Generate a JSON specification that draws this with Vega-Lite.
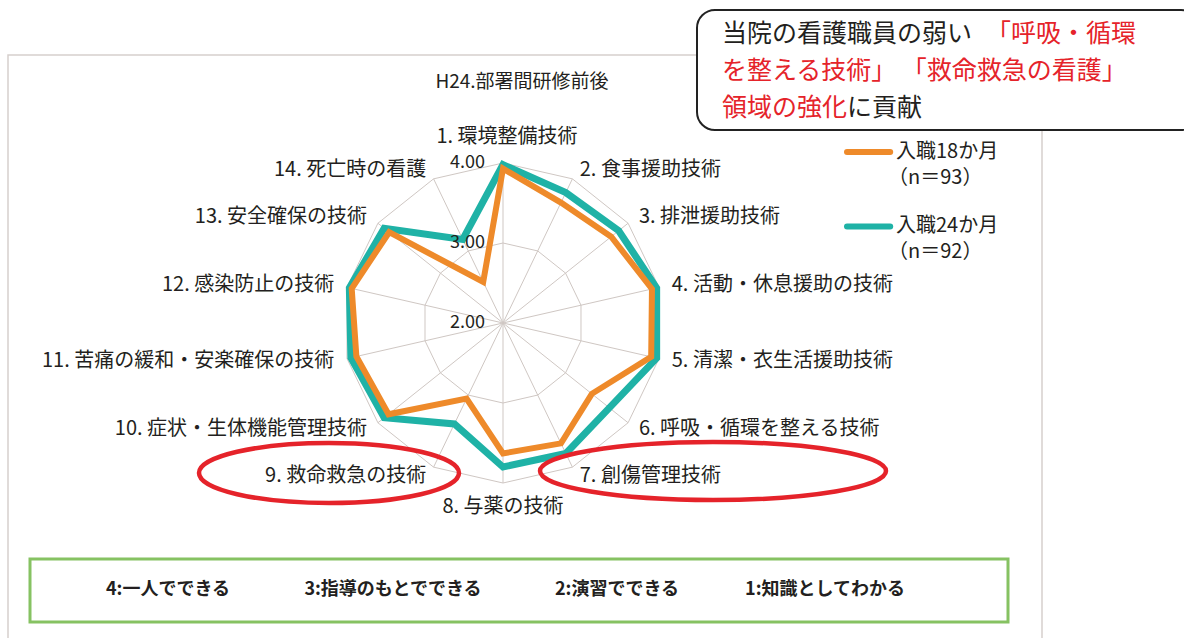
{
  "$schema": "https://vega.github.io/schema/vega-lite/v6.json",
  "width": 1184,
  "height": 638,
  "autosize": "none",
  "padding": 0,
  "background": "white",
  "config": {"view": {"stroke": null}, "text": {"font": "Noto Sans CJK JP"}},
  "data": {"values": [{"note": "annotation"}]},
  "datasets": {
    "axes": [
      {"axis": 1, "label": "1. 環境整備技術"},
      {"axis": 2, "label": "2. 食事援助技術"},
      {"axis": 3, "label": "3. 排泄援助技術"},
      {"axis": 4, "label": "4. 活動・休息援助の技術"},
      {"axis": 5, "label": "5. 清潔・衣生活援助技術"},
      {"axis": 6, "label": "6. 呼吸・循環を整える技術"},
      {"axis": 7, "label": "7. 創傷管理技術"},
      {"axis": 8, "label": "8. 与薬の技術"},
      {"axis": 9, "label": "9. 救命救急の技術"},
      {"axis": 10, "label": "10. 症状・生体機能管理技術"},
      {"axis": 11, "label": "11. 苦痛の緩和・安楽確保の技術"},
      {"axis": 12, "label": "12. 感染防止の技術"},
      {"axis": 13, "label": "13. 安全確保の技術"},
      {"axis": 14, "label": "14. 死亡時の看護"}
    ],
    "scores": [
      {"axis": 1, "m18": 3.93, "m24": 3.98},
      {"axis": 2, "m18": 3.67, "m24": 3.81},
      {"axis": 3, "m18": 3.73, "m24": 3.85},
      {"axis": 4, "m18": 3.91, "m24": 3.97},
      {"axis": 5, "m18": 3.90, "m24": 3.97},
      {"axis": 6, "m18": 3.42, "m24": 3.70},
      {"axis": 7, "m18": 3.67, "m24": 3.81},
      {"axis": 8, "m18": 3.63, "m24": 3.80},
      {"axis": 9, "m18": 3.05, "m24": 3.40},
      {"axis": 10, "m18": 3.83, "m24": 3.90},
      {"axis": 11, "m18": 3.88, "m24": 3.95},
      {"axis": 12, "m18": 3.94, "m24": 3.97},
      {"axis": 13, "m18": 3.82, "m24": 3.90},
      {"axis": 14, "m18": 2.57, "m24": 3.16}
    ],
    "levels": [{"v": 2}, {"v": 3}, {"v": 4}]
  },
  "layer": [
    {
      "mark": {"type": "rect", "filled": false, "stroke": "#D6D0CD", "strokeWidth": 1.5},
      "encoding": {
        "x": {"datum": -6.1875, "type": "quantitative", "scale": {"domain": [-6.2875, 8.5125], "nice": false, "zero": false}, "axis": null},
        "x2": {"datum": 6.7375},
        "y": {"datum": 3.35, "type": "quantitative", "scale": {"domain": [-3.9375, 4.0375], "nice": false, "zero": false}, "axis": null},
        "y2": {"datum": -4.2}
      }
    },
    {
      "data": {"name": "axes"},
      "transform": [
        {"calculate": "(datum.axis-1)*2*PI/14", "as": "t"},
        {"calculate": "2*sin(datum.t)", "as": "sx"},
        {"calculate": "2*cos(datum.t)", "as": "sy"}
      ],
      "mark": {"type": "rule", "color": "#CFC7C3", "strokeWidth": 1},
      "encoding": {
        "x": {"field": "sx", "type": "quantitative", "scale": {"domain": [-6.2875, 8.5125], "nice": false, "zero": false}, "axis": null},
        "y": {"field": "sy", "type": "quantitative", "scale": {"domain": [-3.9375, 4.0375], "nice": false, "zero": false}, "axis": null},
        "x2": {"datum": 0},
        "y2": {"datum": 0}
      }
    },
    {
      "data": {"name": "axes"},
      "transform": [
        {"calculate": "(datum.axis-1)*2*PI/14", "as": "t"},
        {"calculate": "sin(datum.t)", "as": "gx"},
        {"calculate": "cos(datum.t)", "as": "gy"}
      ],
      "mark": {"type": "line", "interpolate": "linear-closed", "color": "#CFC7C3", "strokeWidth": 1},
      "encoding": {
        "x": {"field": "gx", "type": "quantitative", "scale": {"domain": [-6.2875, 8.5125], "nice": false, "zero": false}, "axis": null},
        "y": {"field": "gy", "type": "quantitative", "scale": {"domain": [-3.9375, 4.0375], "nice": false, "zero": false}, "axis": null},
        "order": {"field": "axis", "type": "quantitative"}
      }
    },
    {
      "data": {"name": "axes"},
      "transform": [
        {"calculate": "(datum.axis-1)*2*PI/14", "as": "t"},
        {"calculate": "2*sin(datum.t)", "as": "gx"},
        {"calculate": "2*cos(datum.t)", "as": "gy"}
      ],
      "mark": {"type": "line", "interpolate": "linear-closed", "color": "#CFC7C3", "strokeWidth": 1},
      "encoding": {
        "x": {"field": "gx", "type": "quantitative", "scale": {"domain": [-6.2875, 8.5125], "nice": false, "zero": false}, "axis": null},
        "y": {"field": "gy", "type": "quantitative", "scale": {"domain": [-3.9375, 4.0375], "nice": false, "zero": false}, "axis": null},
        "order": {"field": "axis", "type": "quantitative"}
      }
    },
    {
      "data": {"name": "scores"},
      "transform": [
        {"calculate": "(datum.axis-1)*2*PI/14", "as": "t"},
        {"calculate": "(datum.m24-2)*sin(datum.t)", "as": "px"},
        {"calculate": "(datum.m24-2)*cos(datum.t)", "as": "py"}
      ],
      "mark": {"type": "line", "interpolate": "linear-closed", "color": "#1FB2A6", "strokeWidth": 7, "strokeJoin": "miter"},
      "encoding": {
        "x": {"field": "px", "type": "quantitative", "scale": {"domain": [-6.2875, 8.5125], "nice": false, "zero": false}, "axis": null},
        "y": {"field": "py", "type": "quantitative", "scale": {"domain": [-3.9375, 4.0375], "nice": false, "zero": false}, "axis": null},
        "order": {"field": "axis", "type": "quantitative"}
      }
    },
    {
      "data": {"name": "scores"},
      "transform": [
        {"calculate": "(datum.axis-1)*2*PI/14", "as": "t"},
        {"calculate": "(datum.m18-2)*sin(datum.t)", "as": "px"},
        {"calculate": "(datum.m18-2)*cos(datum.t)", "as": "py"}
      ],
      "mark": {"type": "line", "interpolate": "linear-closed", "color": "#EE8A2A", "strokeWidth": 6, "strokeJoin": "miter"},
      "encoding": {
        "x": {"field": "px", "type": "quantitative", "scale": {"domain": [-6.2875, 8.5125], "nice": false, "zero": false}, "axis": null},
        "y": {"field": "py", "type": "quantitative", "scale": {"domain": [-3.9375, 4.0375], "nice": false, "zero": false}, "axis": null},
        "order": {"field": "axis", "type": "quantitative"}
      }
    },
    {
      "data": {"name": "levels"},
      "transform": [
        {"calculate": "datum.v-2", "as": "ly"},
        {"calculate": "format(datum.v, '.2f')", "as": "lt"}
      ],
      "mark": {"type": "text", "align": "right", "baseline": "middle", "fontSize": 18, "color": "#231F20"},
      "encoding": {
        "x": {"datum": -0.225, "type": "quantitative", "scale": {"domain": [-6.2875, 8.5125], "nice": false, "zero": false}, "axis": null},
        "y": {"field": "ly", "type": "quantitative", "scale": {"domain": [-3.9375, 4.0375], "nice": false, "zero": false}, "axis": null},
        "text": {"field": "lt"}
      }
    },
    {
      "data": {"name": "axes"},
      "transform": [
        {"filter": "datum.axis >= 2 && datum.axis <= 7"},
        {"calculate": "(datum.axis-1)*2*PI/14", "as": "t"},
        {"calculate": "2.125*sin(datum.t)", "as": "lx"},
        {"calculate": "2.125*cos(datum.t)", "as": "ly"}
      ],
      "mark": {"type": "text", "align": "left", "baseline": "middle", "fontSize": 20, "dx": 3, "color": "#231F20"},
      "encoding": {
        "x": {"field": "lx", "type": "quantitative", "scale": {"domain": [-6.2875, 8.5125], "nice": false, "zero": false}, "axis": null},
        "y": {"field": "ly", "type": "quantitative", "scale": {"domain": [-3.9375, 4.0375], "nice": false, "zero": false}, "axis": null},
        "text": {"field": "label"}
      }
    },
    {
      "data": {"name": "axes"},
      "transform": [
        {"filter": "datum.axis >= 9"},
        {"calculate": "(datum.axis-1)*2*PI/14", "as": "t"},
        {"calculate": "2.125*sin(datum.t)", "as": "lx"},
        {"calculate": "2.125*cos(datum.t)", "as": "ly"}
      ],
      "mark": {"type": "text", "align": "right", "baseline": "middle", "fontSize": 20, "dx": -3, "color": "#231F20"},
      "encoding": {
        "x": {"field": "lx", "type": "quantitative", "scale": {"domain": [-6.2875, 8.5125], "nice": false, "zero": false}, "axis": null},
        "y": {"field": "ly", "type": "quantitative", "scale": {"domain": [-3.9375, 4.0375], "nice": false, "zero": false}, "axis": null},
        "text": {"field": "label"}
      }
    },
    {
      "data": {"name": "axes"},
      "transform": [
        {"filter": "datum.axis == 1"}
      ],
      "mark": {"type": "text", "align": "center", "baseline": "middle", "fontSize": 20, "dx": 4, "dy": -16, "color": "#231F20"},
      "encoding": {
        "x": {"datum": 0, "type": "quantitative", "scale": {"domain": [-6.2875, 8.5125], "nice": false, "zero": false}, "axis": null},
        "y": {"datum": 2.125, "type": "quantitative", "scale": {"domain": [-3.9375, 4.0375], "nice": false, "zero": false}, "axis": null},
        "text": {"field": "label"}
      }
    },
    {
      "data": {"name": "axes"},
      "transform": [
        {"filter": "datum.axis == 8"}
      ],
      "mark": {"type": "text", "align": "center", "baseline": "middle", "fontSize": 20, "dy": 14, "color": "#231F20"},
      "encoding": {
        "x": {"datum": 0, "type": "quantitative", "scale": {"domain": [-6.2875, 8.5125], "nice": false, "zero": false}, "axis": null},
        "y": {"datum": -2.125, "type": "quantitative", "scale": {"domain": [-3.9375, 4.0375], "nice": false, "zero": false}, "axis": null},
        "text": {"field": "label"}
      }
    },
    {
      "mark": {"type": "text", "align": "center", "baseline": "middle", "fontSize": 19, "color": "#231F20", "text": "H24.部署間研修前後"},
      "encoding": {
        "x": {"datum": 0.2375, "type": "quantitative", "scale": {"domain": [-6.2875, 8.5125], "nice": false, "zero": false}, "axis": null},
        "y": {"datum": 3.0125, "type": "quantitative", "scale": {"domain": [-3.9375, 4.0375], "nice": false, "zero": false}, "axis": null}
      }
    },
    {
      "mark": {"type": "point", "filled": false, "stroke": "#E5232A", "strokeWidth": 4.5, "size": 67600, "opacity": 1,
        "shape": "M1,0C1,0.1275,0.5523,0.2308,0,0.2308C-0.5523,0.2308,-1,0.1275,-1,0C-1,-0.1275,-0.5523,-0.2308,0,-0.2308C0.5523,-0.2308,1,-0.1275,1,0Z"},
      "encoding": {
        "x": {"datum": -2.175, "type": "quantitative", "scale": {"domain": [-6.2875, 8.5125], "nice": false, "zero": false}, "axis": null},
        "y": {"datum": -1.875, "type": "quantitative", "scale": {"domain": [-3.9375, 4.0375], "nice": false, "zero": false}, "axis": null}
      }
    },
    {
      "mark": {"type": "point", "filled": false, "stroke": "#E5232A", "strokeWidth": 4.5, "size": 119716, "opacity": 1,
        "shape": "M1,0C1,0.0926,0.5523,0.1676,0,0.1676C-0.5523,0.1676,-1,0.0926,-1,0C-1,-0.0926,-0.5523,-0.1676,0,-0.1676C0.5523,-0.1676,1,-0.0926,1,0Z"},
      "encoding": {
        "x": {"datum": 2.625, "type": "quantitative", "scale": {"domain": [-6.2875, 8.5125], "nice": false, "zero": false}, "axis": null},
        "y": {"datum": -1.85, "type": "quantitative", "scale": {"domain": [-3.9375, 4.0375], "nice": false, "zero": false}, "axis": null}
      }
    },
    {
      "mark": {"type": "rect", "fill": "white", "stroke": "#222222", "strokeWidth": 2, "cornerRadius": 18},
      "encoding": {
        "x": {"datum": 2.425, "type": "quantitative", "scale": {"domain": [-6.2875, 8.5125], "nice": false, "zero": false}, "axis": null},
        "x2": {"datum": 8.7},
        "y": {"datum": 3.9125, "type": "quantitative", "scale": {"domain": [-3.9375, 4.0375], "nice": false, "zero": false}, "axis": null},
        "y2": {"datum": 2.4125}
      }
    },
    {
      "mark": {"type": "text", "align": "left", "baseline": "middle", "fontSize": 25, "color": "#231F20", "text": "当院の看護職員の弱い"},
      "encoding": {
        "x": {"datum": 2.7375, "type": "quantitative", "scale": {"domain": [-6.2875, 8.5125], "nice": false, "zero": false}, "axis": null},
        "y": {"datum": 3.6125, "type": "quantitative", "scale": {"domain": [-3.9375, 4.0375], "nice": false, "zero": false}, "axis": null}
      }
    },
    {
      "mark": {"type": "text", "align": "left", "baseline": "middle", "fontSize": 25, "color": "#E5232A", "text": "「呼吸・循環"},
      "encoding": {
        "x": {"datum": 6.0375, "type": "quantitative", "scale": {"domain": [-6.2875, 8.5125], "nice": false, "zero": false}, "axis": null},
        "y": {"datum": 3.6125, "type": "quantitative", "scale": {"domain": [-3.9375, 4.0375], "nice": false, "zero": false}, "axis": null}
      }
    },
    {
      "mark": {"type": "text", "align": "left", "baseline": "middle", "fontSize": 25, "color": "#E5232A", "text": "を整える技術」 「救命救急の看護」"},
      "encoding": {
        "x": {"datum": 2.7375, "type": "quantitative", "scale": {"domain": [-6.2875, 8.5125], "nice": false, "zero": false}, "axis": null},
        "y": {"datum": 3.15, "type": "quantitative", "scale": {"domain": [-3.9375, 4.0375], "nice": false, "zero": false}, "axis": null}
      }
    },
    {
      "mark": {"type": "text", "align": "left", "baseline": "middle", "fontSize": 25, "color": "#E5232A", "text": "領域の強化"},
      "encoding": {
        "x": {"datum": 2.7375, "type": "quantitative", "scale": {"domain": [-6.2875, 8.5125], "nice": false, "zero": false}, "axis": null},
        "y": {"datum": 2.6875, "type": "quantitative", "scale": {"domain": [-3.9375, 4.0375], "nice": false, "zero": false}, "axis": null}
      }
    },
    {
      "mark": {"type": "text", "align": "left", "baseline": "middle", "fontSize": 25, "color": "#231F20", "text": "に貢献"},
      "encoding": {
        "x": {"datum": 4.3, "type": "quantitative", "scale": {"domain": [-6.2875, 8.5125], "nice": false, "zero": false}, "axis": null},
        "y": {"datum": 2.6875, "type": "quantitative", "scale": {"domain": [-3.9375, 4.0375], "nice": false, "zero": false}, "axis": null}
      }
    },
    {
      "mark": {"type": "rule", "color": "#EE8A2A", "strokeWidth": 6, "strokeCap": "round"},
      "encoding": {
        "x": {"datum": 4.3, "type": "quantitative", "scale": {"domain": [-6.2875, 8.5125], "nice": false, "zero": false}, "axis": null},
        "x2": {"datum": 4.84},
        "y": {"datum": 2.1375, "type": "quantitative", "scale": {"domain": [-3.9375, 4.0375], "nice": false, "zero": false}, "axis": null}
      }
    },
    {
      "mark": {"type": "rule", "color": "#1FB2A6", "strokeWidth": 6, "strokeCap": "round"},
      "encoding": {
        "x": {"datum": 4.3, "type": "quantitative", "scale": {"domain": [-6.2875, 8.5125], "nice": false, "zero": false}, "axis": null},
        "x2": {"datum": 4.84},
        "y": {"datum": 1.20625, "type": "quantitative", "scale": {"domain": [-3.9375, 4.0375], "nice": false, "zero": false}, "axis": null}
      }
    },
    {
      "mark": {"type": "text", "align": "left", "baseline": "middle", "fontSize": 20, "color": "#231F20", "text": "入職18か月"},
      "encoding": {
        "x": {"datum": 4.9125, "type": "quantitative", "scale": {"domain": [-6.2875, 8.5125], "nice": false, "zero": false}, "axis": null},
        "y": {"datum": 2.1375, "type": "quantitative", "scale": {"domain": [-3.9375, 4.0375], "nice": false, "zero": false}, "axis": null}
      }
    },
    {
      "mark": {"type": "text", "align": "left", "baseline": "middle", "fontSize": 20, "color": "#231F20", "text": "（n＝93）"},
      "encoding": {
        "x": {"datum": 4.8125, "type": "quantitative", "scale": {"domain": [-6.2875, 8.5125], "nice": false, "zero": false}, "axis": null},
        "y": {"datum": 1.8125, "type": "quantitative", "scale": {"domain": [-3.9375, 4.0375], "nice": false, "zero": false}, "axis": null}
      }
    },
    {
      "mark": {"type": "text", "align": "left", "baseline": "middle", "fontSize": 20, "color": "#231F20", "text": "入職24か月"},
      "encoding": {
        "x": {"datum": 4.9125, "type": "quantitative", "scale": {"domain": [-6.2875, 8.5125], "nice": false, "zero": false}, "axis": null},
        "y": {"datum": 1.2125, "type": "quantitative", "scale": {"domain": [-3.9375, 4.0375], "nice": false, "zero": false}, "axis": null}
      }
    },
    {
      "mark": {"type": "text", "align": "left", "baseline": "middle", "fontSize": 20, "color": "#231F20", "text": "（n＝92）"},
      "encoding": {
        "x": {"datum": 4.8125, "type": "quantitative", "scale": {"domain": [-6.2875, 8.5125], "nice": false, "zero": false}, "axis": null},
        "y": {"datum": 0.8875, "type": "quantitative", "scale": {"domain": [-3.9375, 4.0375], "nice": false, "zero": false}, "axis": null}
      }
    },
    {
      "mark": {"type": "rect", "filled": false, "stroke": "#86C262", "strokeWidth": 3},
      "encoding": {
        "x": {"datum": -5.9125, "type": "quantitative", "scale": {"domain": [-6.2875, 8.5125], "nice": false, "zero": false}, "axis": null},
        "x2": {"datum": 6.3125},
        "y": {"datum": -2.95, "type": "quantitative", "scale": {"domain": [-3.9375, 4.0375], "nice": false, "zero": false}, "axis": null},
        "y2": {"datum": -3.7375}
      }
    },
    {
      "mark": {"type": "text", "align": "center", "baseline": "middle", "fontSize": 18, "fontWeight": "bold", "color": "#231F20", "text": "4:一人でできる"},
      "encoding": {
        "x": {"datum": -4.1875, "type": "quantitative", "scale": {"domain": [-6.2875, 8.5125], "nice": false, "zero": false}, "axis": null},
        "y": {"datum": -3.3375, "type": "quantitative", "scale": {"domain": [-3.9375, 4.0375], "nice": false, "zero": false}, "axis": null}
      }
    },
    {
      "mark": {"type": "text", "align": "center", "baseline": "middle", "fontSize": 18, "fontWeight": "bold", "color": "#231F20", "text": "3:指導のもとでできる"},
      "encoding": {
        "x": {"datum": -1.375, "type": "quantitative", "scale": {"domain": [-6.2875, 8.5125], "nice": false, "zero": false}, "axis": null},
        "y": {"datum": -3.3375, "type": "quantitative", "scale": {"domain": [-3.9375, 4.0375], "nice": false, "zero": false}, "axis": null}
      }
    },
    {
      "mark": {"type": "text", "align": "center", "baseline": "middle", "fontSize": 18, "fontWeight": "bold", "color": "#231F20", "text": "2:演習でできる"},
      "encoding": {
        "x": {"datum": 1.425, "type": "quantitative", "scale": {"domain": [-6.2875, 8.5125], "nice": false, "zero": false}, "axis": null},
        "y": {"datum": -3.3375, "type": "quantitative", "scale": {"domain": [-3.9375, 4.0375], "nice": false, "zero": false}, "axis": null}
      }
    },
    {
      "mark": {"type": "text", "align": "center", "baseline": "middle", "fontSize": 18, "fontWeight": "bold", "color": "#231F20", "text": "1:知識としてわかる"},
      "encoding": {
        "x": {"datum": 4.025, "type": "quantitative", "scale": {"domain": [-6.2875, 8.5125], "nice": false, "zero": false}, "axis": null},
        "y": {"datum": -3.3375, "type": "quantitative", "scale": {"domain": [-3.9375, 4.0375], "nice": false, "zero": false}, "axis": null}
      }
    }
  ]
}
